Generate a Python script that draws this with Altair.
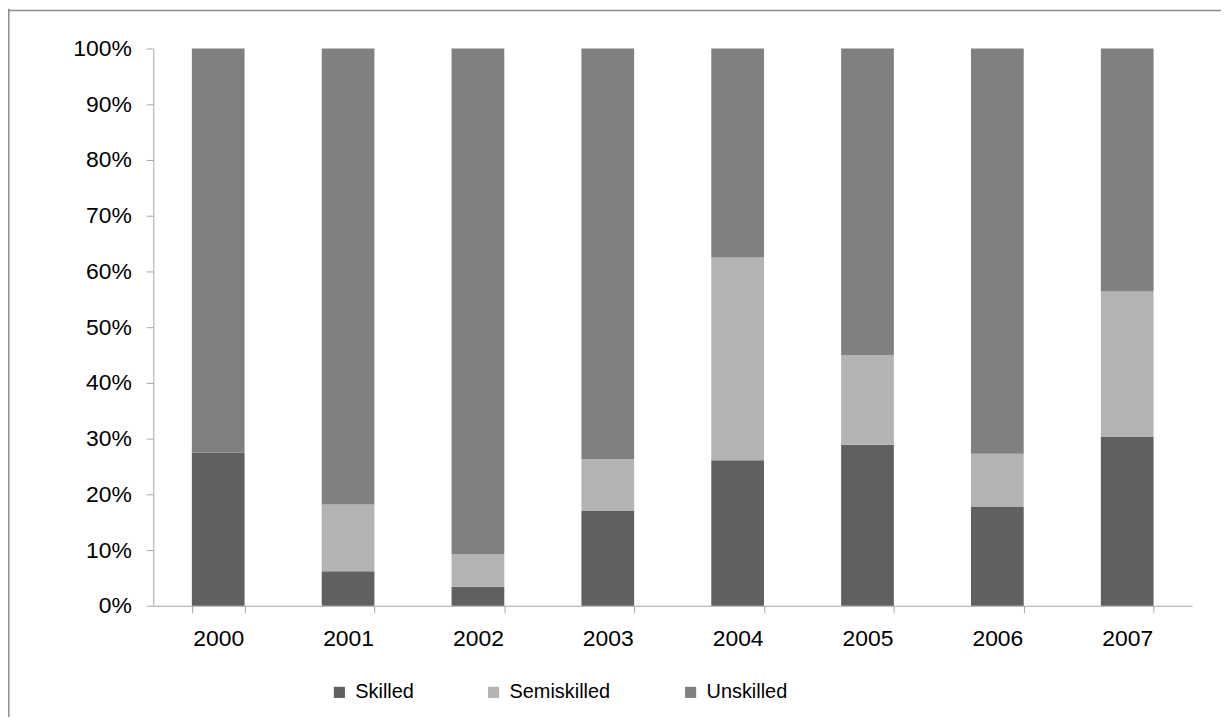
import altair as alt
import pandas as pd

years = ["2000", "2001", "2002", "2003", "2004", "2005", "2006", "2007"]
categories = ["Skilled", "Semiskilled", "Unskilled"]
skilled = [27.5, 6.2, 3.4, 17.0, 26.1, 28.9, 17.8, 30.4]
semiskilled = [0.0, 12.0, 5.9, 9.3, 36.4, 16.1, 9.5, 26.0]
unskilled = [72.5, 81.8, 90.7, 73.7, 37.5, 55.0, 72.7, 43.6]
colors = ["#606060", "#b3b3b3", "#808080"]

rows = []
for i, y in enumerate(years):
    for k, (cat, vals) in enumerate(zip(categories, [skilled, semiskilled, unskilled])):
        rows.append({"Year": y, "Category": cat, "Value": vals[i], "order": k})
df = pd.DataFrame(rows)

FONT = "Liberation Sans"
AXIS_COLOR = "#a6a6a6"

bars = alt.Chart(df).mark_bar().encode(
    x=alt.X("Year:N", sort=years, title=None,
            scale=alt.Scale(paddingInner=0.594, paddingOuter=0.297),
            axis=alt.Axis(labelAngle=0, tickBand="extent", labelFontSize=23,
                          labelPadding=15, tickSize=7, domainColor=AXIS_COLOR,
                          tickColor=AXIS_COLOR, labelColor="#000000", grid=False,
                          labelFont=FONT)),
    y=alt.Y("Value:Q", stack="normalize", title=None,
            scale=alt.Scale(domain=[0, 1]),
            axis=alt.Axis(format=".0%", values=[i / 10 for i in range(11)],
                          labelFontSize=23, labelPadding=15, tickSize=7,
                          domainColor=AXIS_COLOR, tickColor=AXIS_COLOR,
                          labelColor="#000000", grid=False, labelFont=FONT)),
    color=alt.Color("Category:N",
                    scale=alt.Scale(domain=categories, range=colors),
                    legend=alt.Legend(title=None, orient="none", direction="horizontal",
                                      legendX=177, legendY=637, symbolType="square",
                                      symbolSize=125, symbolStrokeWidth=0,
                                      labelFontSize=20, labelFont=FONT, labelOffset=6,
                                      columnPadding=70, padding=0, labelColor="#000000")),
    order=alt.Order("order:Q", sort="ascending"),
)

one = alt.Data(values=[{"a": 1}])
border_left = alt.Chart(one).mark_rule(color="#8c8c8c", strokeWidth=1.5).encode(
    x=alt.value(-145.2), y=alt.value(-40), y2=alt.value(720)
)
border_top = alt.Chart(one).mark_rule(color="#8c8c8c", strokeWidth=1.5).encode(
    x=alt.value(-146), x2=alt.value(1100), y=alt.value(-38.3)
)

chart = alt.layer(bars, border_left, border_top).properties(
    width=1044, height=560,
    autosize=alt.AutoSizeParams(type="none"),
    padding={"left": 146, "top": 39, "right": 29, "bottom": 110},
    background="white",
).configure_view(strokeWidth=0, stroke="transparent")

chart.save("out.html", embed_options={"renderer": "svg", "actions": False})
